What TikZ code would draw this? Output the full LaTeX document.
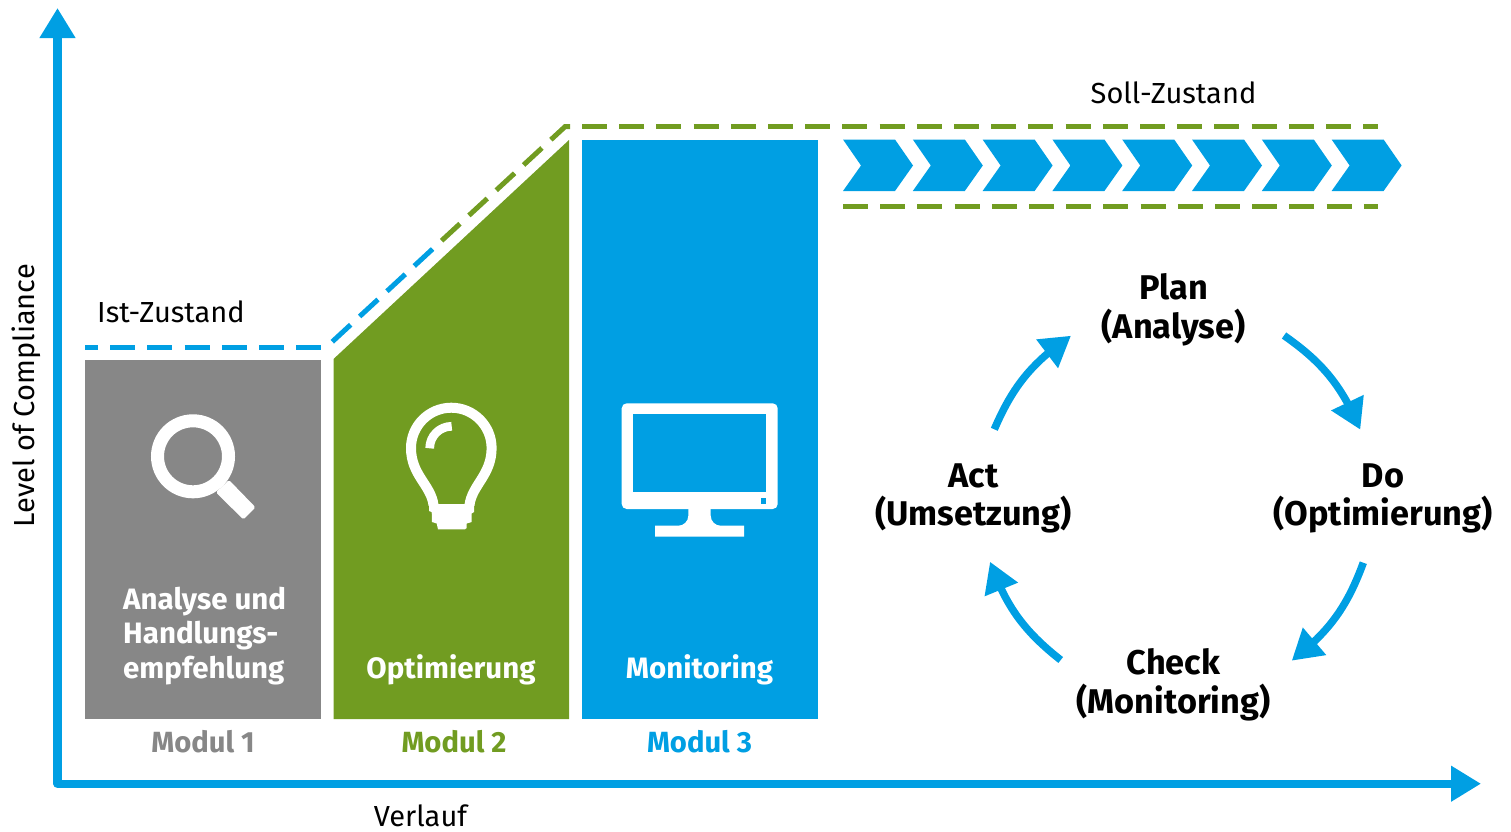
\documentclass[tikz,border=0pt]{standalone}
\usepackage{fontspec}
\setmainfont{Fira Sans}
\usetikzlibrary{arrows.meta,bending}
\definecolor{cblue}{HTML}{009FE3}
\definecolor{cgreen}{HTML}{719C21}
\definecolor{cgray}{HTML}{878787}
\tikzset{
 axisline/.style={draw=cblue,line width=8.4pt,line join=round,{Triangle[length=30pt,width=34pt]}-{Triangle[length=30pt,width=34pt]}},
 cyc/.style={draw=cblue,line width=7.5pt,-{Triangle[length=30pt,width=34pt]}},
 dashline/.style={line width=5pt,dash pattern=on 25pt off 12.2pt},
 plain/.style={font=\fontsize{29}{35}\selectfont,text=black,inner sep=0pt},
 cycle label/.style={font=\fontsize{34.3}{38.7}\selectfont\bfseries,text=black,align=center,inner sep=0pt},
 box label/.style={font=\fontsize{29.5}{34.5}\selectfont\bfseries,text=white,inner sep=0pt},
 mod label/.style={font=\fontsize{29.2}{34.5}\selectfont\bfseries,inner sep=0pt},
 chev/.style={fill=cblue,draw=none},
}
\begin{document}
\begin{tikzpicture}[x=1pt,y=-1pt]
\useasboundingbox (0,0) rectangle (1511,831);
% boxes
\fill[cgray] (85,360) rectangle (321,719);
\fill[cgreen] (333.5,719) -- (333.5,359) -- (569,140) -- (569,719) -- cycle;
\fill[cblue] (582,140) rectangle (818,719);
% axes
\coordinate (ytip) at (57.5,8);
\coordinate (orig) at (57.5,783.7);
\coordinate (xtip) at (1481,783.7);
\draw[axisline] (ytip) -- (orig) -- (xtip);
% dashed lines
\draw[dashline,draw=cblue,dash phase=12pt] (85,347) -- (321,347);
\draw[dashline,draw=cblue] (332.3,341.7) -- (432.6,249);
\draw[dashline,draw=cgreen] (441.6,240.7) -- (565,126.7) -- (570,126.7);
\draw[dashline,draw=cgreen] (582,126.7) -- (1378,126.7);
\draw[dashline,draw=cgreen] (843,206.5) -- (1378,206.5);
% chevrons
\foreach \i in {0,...,7}{
 \fill[chev] ({843+69.8*\i},139.5) -- ({895+69.8*\i},139.5) -- ({913+69.8*\i},165.5) -- ({895+69.8*\i},191) -- ({843+69.8*\i},191) -- ({861+69.8*\i},165.5) -- cycle;
}
% magnifier
\draw[white,line width=13pt] (193,456.3) circle (35.5);
\fill[white,rounded corners=1.5pt] (229,480) -- (216,492.3) -- (243.3,519.5) -- (255.5,507.3) -- cycle;
% bulb
\draw[white,line width=10pt] (433.5,505) .. controls (431,485) and (411,475) .. (411,448) arc[start angle=180,end angle=360,radius=40.3] .. controls (491.6,475) and (472,485) .. (469.5,505);
\draw[white,line width=8.7pt] (451.7,426.3) arc[start angle=270,end angle=180,radius=22];
\fill[white] (429,504) -- (474,504) -- (474,512) -- (471.7,513.5) -- (471.7,522) -- (466.7,523.5) -- (466.7,528) -- (465,529.3) -- (438,529.3) -- (436.7,523.5) -- (432,522) -- (431.7,512) -- (429,511) -- cycle;
% monitor
\fill[white,rounded corners=5pt] (621.7,403.3) rectangle (777.7,509);
\fill[cblue] (632.7,414.3) rectangle (766.3,492.3);
\fill[cblue] (760.7,497.7) rectangle (766.3,503.7);
\fill[white] (688.3,505) -- (688.3,515.7) arc[start angle=0,end angle=90,radius=10] -- (655,525.7) -- (655,536.7) -- (744,536.7) -- (744,525.7) -- (720.7,525.7) arc[start angle=90,end angle=180,radius=10] -- (710.7,505) -- cycle;
% text
\node[plain,anchor=base] (ist) at (171,322) {Ist-Zustand};
\node[plain,anchor=base] (soll) at (1173.5,103) {Soll-Zustand};
\node[plain,anchor=base] (verlauf) at (420.5,826) {Verlauf};
\node[plain,anchor=base,rotate=90] (level) at (34,395.5) {Level of Compliance};
\node[box label,align=left,anchor=west] (t1) at (123,636) {Analyse und\\Handlungs-\\empfehlung};
\node[box label,anchor=base] (t2) at (451,678) {Optimierung};
\node[box label,anchor=base] (t3) at (699.5,678) {Monitoring};
\node[mod label,text=cgray,anchor=base] (m1) at (203,752.7) {Modul 1};
\node[mod label,text=cgreen,anchor=base] (m2) at (454,752.7) {Modul 2};
\node[mod label,text=cblue,anchor=base] (m3) at (699.5,752.7) {Modul 3};
\node[cycle label] (plan) at (1173.5,310) {Plan\\(Analyse)};
\node[cycle label] (do) at (1383,498.5) {Do\\(Optimierung)};
\node[cycle label] (check) at (1173.5,685) {Check\\(Monitoring)};
\node[cycle label] (act) at (973.5,498.5) {Act\\(Umsetzung)};
% cycle arrows
\coordinate (a1s) at (1284,335.5); \coordinate (a1e) at (1360.3,429.7);
\coordinate (a2s) at (1363.3,562.7); \coordinate (a2e) at (1291.7,660.7);
\coordinate (a3s) at (1060.7,660); \coordinate (a3e) at (990,561.7);
\coordinate (a4s) at (994.3,429.3); \coordinate (a4e) at (1071,335.7);
\draw[cyc] (a1s) to[bend left=16] (a1e);
\draw[cyc] (a2s) to[bend left=16] (a2e);
\draw[cyc] (a3s) to[bend left=16] (a3e);
\draw[cyc] (a4s) to[bend left=16] (a4e);
\end{tikzpicture}
\end{document}
